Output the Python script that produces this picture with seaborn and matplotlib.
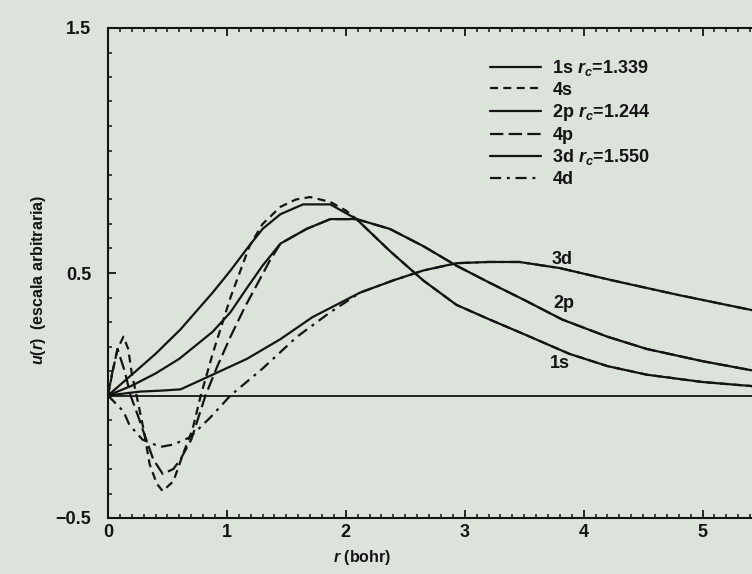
import matplotlib
matplotlib.use("Agg")
import matplotlib.pyplot as plt
import seaborn as sns
import numpy as np
from matplotlib.ticker import MultipleLocator, FixedLocator

# ---- data ----
x_1s = [0, 0.2, 0.4, 0.61, 0.88, 1.03, 1.17, 1.30, 1.45, 1.64, 1.87, 2.09, 2.37, 2.65, 2.93, 3.21, 3.5, 3.88, 4.2, 4.53, 5.0, 5.5]
y_1s = [0, 0.085, 0.17, 0.27, 0.42, 0.51, 0.60, 0.68, 0.74, 0.78, 0.78, 0.72, 0.59, 0.47, 0.37, 0.31, 0.25, 0.17, 0.12, 0.085, 0.055, 0.035]

x_4s = [0, 0.04, 0.08, 0.13, 0.17, 0.20, 0.24, 0.30, 0.35, 0.41, 0.46, 0.55, 0.63, 0.71, 0.78, 0.88, 1.03, 1.19, 1.30, 1.45, 1.58, 1.70, 1.87, 2.0, 2.09]
y_4s = [0, 0.10, 0.19, 0.24, 0.19, 0.09, 0.0, -0.14, -0.28, -0.36, -0.39, -0.35, -0.24, -0.14, 0.0, 0.17, 0.40, 0.61, 0.70, 0.77, 0.80, 0.81, 0.79, 0.755, 0.72]

x_2p = [0, 0.2, 0.4, 0.6, 0.88, 1.03, 1.17, 1.30, 1.45, 1.67, 1.87, 2.09, 2.37, 2.65, 2.93, 3.21, 3.5, 3.82, 4.2, 4.53, 5.0, 5.5]
y_2p = [0, 0.04, 0.09, 0.15, 0.26, 0.34, 0.44, 0.53, 0.62, 0.68, 0.72, 0.72, 0.68, 0.61, 0.53, 0.46, 0.39, 0.31, 0.24, 0.19, 0.14, 0.095]

x_4p = [0, 0.03, 0.08, 0.14, 0.19, 0.25, 0.30, 0.38, 0.46, 0.55, 0.61, 0.70, 0.76, 0.82, 0.92, 1.03, 1.15, 1.25, 1.36]
y_4p = [0, 0.08, 0.19, 0.10, 0.0, -0.08, -0.15, -0.26, -0.32, -0.30, -0.26, -0.18, -0.09, 0.0, 0.12, 0.24, 0.36, 0.45, 0.55]

x_3d = [0, 0.27, 0.45, 0.61, 0.88, 1.17, 1.45, 1.72, 2.12, 2.4, 2.65, 2.93, 3.2, 3.46, 3.8, 4.24, 4.8, 5.5]
y_3d = [0, 0.016, 0.02, 0.025, 0.085, 0.15, 0.23, 0.32, 0.42, 0.47, 0.51, 0.54, 0.545, 0.545, 0.52, 0.47, 0.41, 0.34]

x_4d = [0, 0.13, 0.18, 0.29, 0.44, 0.55, 0.69, 0.86, 1.03, 1.3, 1.59, 1.87, 2.12]
y_4d = [0, -0.065, -0.12, -0.18, -0.21, -0.20, -0.17, -0.09, 0.0, 0.11, 0.24, 0.34, 0.42]

labels = ["1s $r_c$=1.339", "4s", "2p $r_c$=1.244", "4p", "3d $r_c$=1.550", "4d"]
curve_names = ["3d", "2p", "1s"]
curve_name_x = [3.82, 3.83, 3.80]
curve_name_y = [0.555, 0.375, 0.13]
xticks = [0, 1, 2, 3, 4, 5]
yticks = [-0.5, 0.5, 1.5]

# ---- style ----
bg = "#dce3db"
ink = "#141414"
sns.set_style("ticks")
plt.rcParams["font.family"] = ["Liberation Sans", "DejaVu Sans"]
plt.rcParams["font.weight"] = "bold"
plt.rcParams["axes.labelweight"] = "bold"
plt.rcParams["mathtext.fontset"] = "custom"
plt.rcParams["mathtext.rm"] = "Liberation Sans:bold"
plt.rcParams["mathtext.it"] = "Liberation Sans:italic:bold"

fig = plt.figure(figsize=(7.52, 5.74), dpi=100, facecolor=bg)
W, H = 752, 574
left, top, bottom, right = 108, 28, 518, 762
ax = fig.add_axes([left / W, (H - bottom) / H, (right - left) / W, (bottom - top) / H])
ax.set_facecolor(bg)

lw = 1.6
ax.axhline(0, color=ink, lw=1.3, zorder=1)

x_src = {"1s": (x_1s, y_1s), "2p": (x_2p, y_2p), "3d": (x_3d, y_3d)}

def tail(xa, ya, key):
    xs_, ys_ = x_src[key]
    xx = list(xa) + [v for v in xs_ if v > xa[-1]]
    yy = list(ya) + [w for v, w in zip(xs_, ys_) if v > xa[-1]]
    return xx, yy

series = [
    (x_1s, y_1s, "-"),
    (*tail(x_4s, y_4s, "1s"), (0, (3.6, 2.4))),
    (x_2p, y_2p, "-"),
    (*tail(x_4p, y_4p, "2p"), (0, (6.0, 2.4))),
    (x_3d, y_3d, "-"),
    (*tail(x_4d, y_4d, "3d"), (0, (5.0, 2.6, 1.3, 2.6))),
]
for (xs, ys, ls), lab in zip(series, labels):
    sns.lineplot(x=xs, y=ys, ax=ax, color=ink, lw=lw, linestyle=ls, label=lab,
                 sort=False, estimator=None, zorder=2)

for name, cx, cy in zip(curve_names, curve_name_x, curve_name_y):
    ax.text(cx, cy, name, fontsize=13, color=ink, ha="center", va="center")

ax.set_xlim(0, 5.5)
ax.set_ylim(-0.5, 1.5)
ax.xaxis.set_major_locator(FixedLocator(xticks))
ax.xaxis.set_minor_locator(MultipleLocator(0.1))
ax.yaxis.set_major_locator(FixedLocator(yticks))
ax.yaxis.set_minor_locator(MultipleLocator(0.1))
ax.set_xticklabels([str(t) for t in xticks])
ax.set_yticklabels(["\u22120.5", "0.5", "1.5"])
ax.tick_params(axis="both", which="both", direction="in", top=True, right=True,
               color=ink, labelcolor=ink, labelsize=13)
ax.tick_params(axis="both", which="major", length=6, width=1.3)
ax.tick_params(axis="both", which="minor", length=3, width=1.1)
ax.tick_params(axis="x", pad=4)
ax.tick_params(axis="y", pad=12)
for s in ax.spines.values():
    s.set_color(ink)
    s.set_linewidth(1.5)

ax.set_xlabel("$r$ (bohr)", fontsize=11.5, color=ink)
ax.xaxis.set_label_coords((362 - left) / (right - left), -0.062)
ax.set_ylabel("$u(r)$  (escala arbitraria)", fontsize=11.5, color=ink)
ax.yaxis.set_label_coords(-0.092, 0.486)

leg = ax.legend(loc="upper left", bbox_to_anchor=(490 / W, 1 - 58 / H),
                bbox_transform=fig.transFigure, frameon=False, fontsize=13,
                handlelength=2.8, handletextpad=0.65, labelspacing=0.2,
                borderpad=0, borderaxespad=0)
for t in leg.get_texts():
    t.set_color(ink)

fig.savefig("out.png", dpi=100, facecolor=bg)
